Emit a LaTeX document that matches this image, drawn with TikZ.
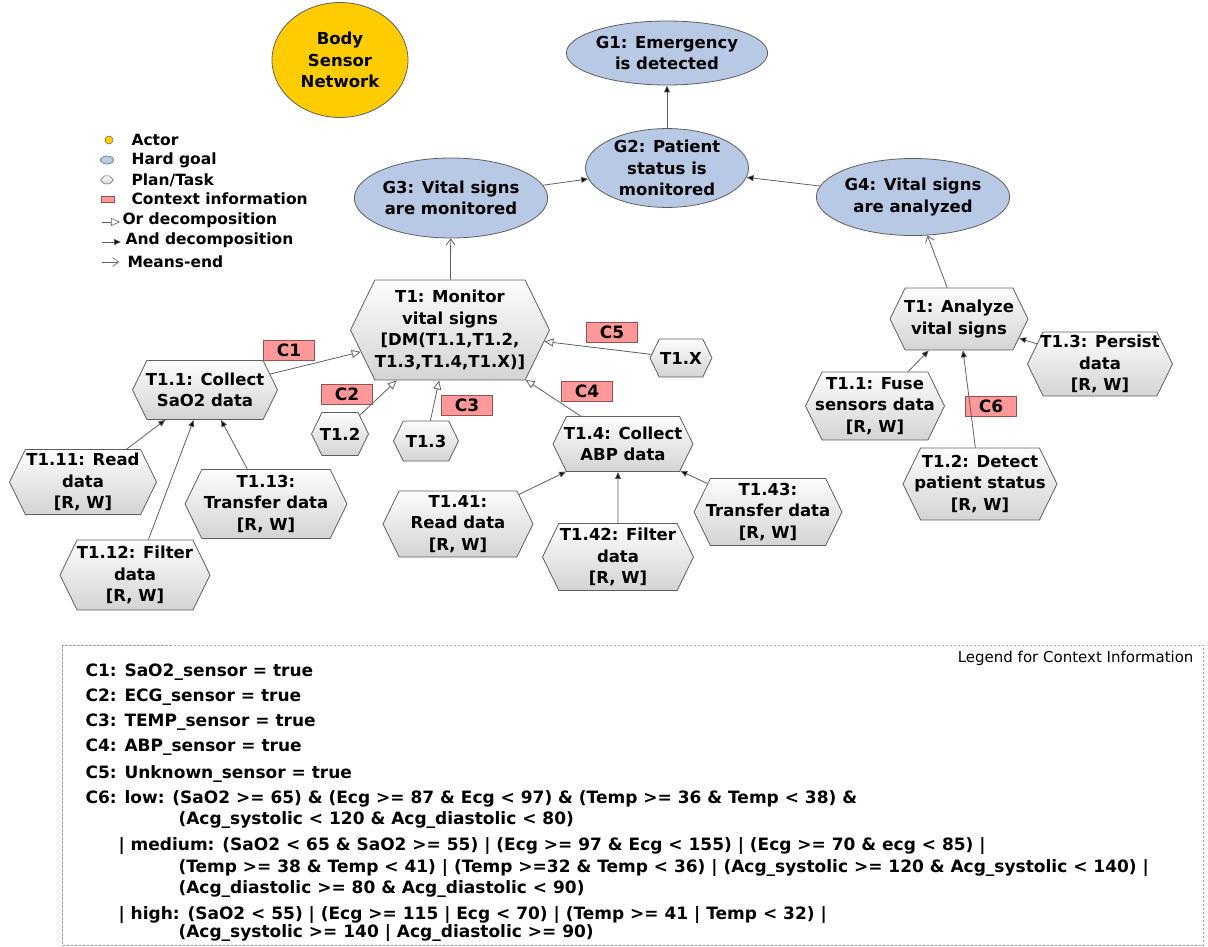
\documentclass[tikz,border=0pt]{standalone}
\usepackage{fontspec}
\setmainfont{DejaVu Sans}
\usetikzlibrary{shapes.geometric,shapes.symbols,arrows.meta}
\definecolor{goalblue}{RGB}{183,201,228}
\definecolor{actorgold}{RGB}{255,204,0}
\definecolor{ctxpink}{RGB}{255,153,153}
\definecolor{ctxborder}{RGB}{150,80,80}
\definecolor{edgegray}{RGB}{95,95,95}
\begin{document}
\begin{tikzpicture}[x=1pt,y=-1pt,
  every node/.style={font=\fontsize{16.5}{21.5}\selectfont\bfseries},
  goal/.style={ellipse, draw=edgegray, line width=0.8pt, fill=goalblue, align=center, inner sep=0pt},
  actor/.style={ellipse, draw=edgegray, line width=0.8pt, fill=actorgold, align=center, inner sep=0pt},
  task/.style={signal, signal to=east and west, signal pointer angle=128,
    draw=edgegray, line width=0.8pt, top color=black!1, bottom color=black!17,
    align=center, inner xsep=-20pt, inner ysep=0pt},
  ctx/.style={rectangle, draw=ctxborder, line width=0.6pt, fill=ctxpink,
    minimum width=51, minimum height=20, inner sep=0pt, font=\fontsize{17}{20}\selectfont\bfseries},
  link/.style={draw=edgegray, line width=0.8pt},
  ordec/.style={link, -{Triangle[length=9, width=8, fill=white]}},
  anddec/.style={link, -{Triangle[length=7, width=6, fill=black]}},
  meansend/.style={link, -{Straight Barb[length=6, width=9]}},
  legtext/.style={anchor=west, font=\fontsize{15.5}{18}\selectfont\bfseries},
  ctxline/.style={anchor=base west, font=\fontsize{17}{20}\selectfont\bfseries}
]
\useasboundingbox (0,0) rectangle (1208,947);

% ---- actor and goals ----
\node[actor, minimum width=136, minimum height=115] (bsn) at (340,60) {Body\\Sensor\\Network};
\node[goal, minimum width=164, minimum height=64] (g1) at (667,53) {G1: Emergency\\is detected};
\node[goal, minimum width=163, minimum height=78] (g2) at (667,168) {G2: Patient\\status is\\monitored};
\node[goal, minimum width=155, minimum height=80] (g3) at (451,198) {G3: Vital signs\\are monitored};
\node[goal, minimum width=154, minimum height=77] (g4) at (913,197) {G4: Vital signs\\are analyzed};

% ---- monitoring tasks ----
\node[task, minimum width=199, minimum height=100] (t1) at (450,330) {T1: Monitor\\vital signs\\{[}DM(T1.1,T1.2,\\T1.3,T1.4,T1.X)]};
\node[task, minimum width=145, minimum height=59] (t11) at (205,390) {T1.1: Collect\\SaO2 data};
\node[task, minimum width=57, minimum height=43] (t12) at (340,434) {T1.2};
\node[task, minimum width=65, minimum height=40] (t13) at (426,441) {T1.3};
\node[task, minimum width=140, minimum height=55] (t14) at (623,444) {T1.4: Collect\\ABP data};
\node[task, minimum width=62, minimum height=38] (t1x) at (681,358) {T1.X};
\node[task, minimum width=147, minimum height=65] (t111) at (83,482) {T1.11: Read\\data\\{[}R, W]};
\node[task, minimum width=150, minimum height=70] (t112) at (135,575) {T1.12: Filter\\data\\{[}R, W]};
\node[task, minimum width=162, minimum height=69] (t113) at (266,504) {T1.13:\\Transfer data\\{[}R, W]};
\node[task, minimum width=150, minimum height=66] (t141) at (458,524) {T1.41:\\Read data\\{[}R, W]};
\node[task, minimum width=151, minimum height=67] (t142) at (618,557) {T1.42: Filter\\data\\{[}R, W]};
\node[task, minimum width=148, minimum height=67] (t143) at (768,512) {T1.43:\\Transfer data\\{[}R, W]};

% ---- analysis tasks ----
\node[task, minimum width=138, minimum height=62] (ta) at (959,319) {T1: Analyze\\vital signs};
\node[task, minimum width=139, minimum height=68] (ta1) at (875,406) {T1.1: Fuse\\sensors data\\{[}R, W]};
\node[task, minimum width=154, minimum height=72] (ta2) at (980,484) {T1.2: Detect\\patient status\\{[}R, W]};
\node[task, minimum width=145, minimum height=64] (ta3) at (1100,364) {T1.3: Persist\\data\\{[}R, W]};

% ---- context tags ----
\node[ctx] (c1) at (289,350) {C1};
\node[ctx] (c2) at (347,394) {C2};
\node[ctx] (c3) at (467,405) {C3};
\node[ctx] (c4) at (587,391) {C4};
\node[ctx] (c5) at (612,332) {C5};
\node[ctx] (c6) at (991,406) {C6};

% ---- goal links ----
\draw[anddec] (g2) -- (g1);
\draw[anddec] (g3) -- (g2);
\draw[anddec] (g4) -- (g2);
\draw[meansend] (t1) -- (g3);
\draw[meansend] (ta) -- (g4);

% ---- task decompositions ----
\draw[ordec] (t11) -- (t1);
\draw[ordec] (t12) -- (t1);
\draw[ordec] (t13) -- (t1);
\draw[ordec] (t14) -- (t1);
\draw[ordec] (t1x) -- (t1);
\draw[anddec] (t111) -- (t11);
\draw[anddec] (t112) -- (t11);
\draw[anddec] (t113) -- (t11);
\draw[anddec] (t141) -- (t14);
\draw[anddec] (t142) -- (t142 |- t14.south);
\draw[anddec] (t143) -- (t14);
\draw[anddec] (ta1) -- (ta);
\draw[anddec] (ta2) -- (ta);
\draw[anddec] (ta3) -- (ta);

% ---- symbol legend ----
\node[circle, draw=edgegray, line width=0.5pt, fill=actorgold, minimum size=8, inner sep=0pt] (lgactor) at (109,140) {};
\node[legtext] (lgactort) at (128,140) {Actor};
\node[ellipse, draw=edgegray, line width=0.5pt, fill=goalblue, minimum width=13, minimum height=8, inner sep=0pt] (lggoal) at (107,160) {};
\node[legtext] (lggoalt) at (128,160) {Hard goal};
\node[signal, signal to=east and west, draw=edgegray, line width=0.5pt, top color=black!1, bottom color=black!17, minimum width=13, minimum height=8, inner sep=0pt] (lgtask) at (107,180) {};
\node[legtext] (lgtaskt) at (128,180) {Plan/Task};
\node[rectangle, draw=ctxborder, line width=0.5pt, fill=ctxpink, minimum width=13, minimum height=6, inner sep=0pt] (lgctx) at (108,199) {};
\node[legtext] (lgctxt) at (128,199) {Context information};
\coordinate (lgora) at (102,222);
\coordinate (lgorb) at (120,222);
\draw[ordec, line width=0.6pt] (lgora) -- (lgorb);
\node[legtext] (lgort) at (119,220) {Or decomposition};
\coordinate (lganda) at (102,242);
\coordinate (lgandb) at (121,242);
\draw[anddec, line width=0.6pt] (lganda) -- (lgandb);
\node[legtext] (lgandt) at (122,240) {And decomposition};
\coordinate (lgmea) at (102,262);
\coordinate (lgmeb) at (119,262);
\draw[meansend, line width=0.6pt] (lgmea) -- (lgmeb);
\node[legtext] (lgmet) at (124,262) {Means-end};

% ---- context information legend ----
\draw[gray!70, line width=0.6pt, dash pattern=on 2.5pt off 1.5pt] (62,645) rectangle (1203,945);
\node[anchor=base east, font=\fontsize{15}{18}\selectfont] (ctxtitle) at (1197,662) {Legend for Context Information};
\node[ctxline] (l1) at (82,676) {C1: SaO2\_sensor = true};
\node[ctxline] (l2) at (82,701) {C2: ECG\_sensor = true};
\node[ctxline] (l3) at (82,726) {C3: TEMP\_sensor = true};
\node[ctxline] (l4) at (82,751) {C4: ABP\_sensor = true};
\node[ctxline] (l5) at (82,778) {C5: Unknown\_sensor = true};
\node[ctxline] (l6) at (82,803) {C6: low: (SaO2 >= 65) \& (Ecg >= 87 \& Ecg < 97) \& (Temp >= 36 \& Temp < 38) \&};
\node[ctxline] (l7) at (175,824) {(Acg\_systolic < 120 \& Acg\_diastolic < 80)};
\node[ctxline] (l8) at (115,850) {| medium: (SaO2 < 65 \& SaO2 >= 55) | (Ecg >= 97 \& Ecg < 155) | (Ecg >= 70 \& ecg < 85) |};
\node[ctxline] (l9) at (175,872) {(Temp >= 38 \& Temp < 41) | (Temp >=32 \& Temp < 36) | (Acg\_systolic >= 120 \& Acg\_systolic < 140) |};
\node[ctxline] (l10) at (175,893) {(Acg\_diastolic >= 80 \& Acg\_diastolic < 90)};
\node[ctxline] (l11) at (115,919) {| high: (SaO2 < 55) | (Ecg >= 115 | Ecg < 70) | (Temp >= 41 | Temp < 32) |};
\node[ctxline] (l12) at (175,937) {(Acg\_systolic >= 140 | Acg\_diastolic >= 90)};
\end{tikzpicture}
\end{document}
